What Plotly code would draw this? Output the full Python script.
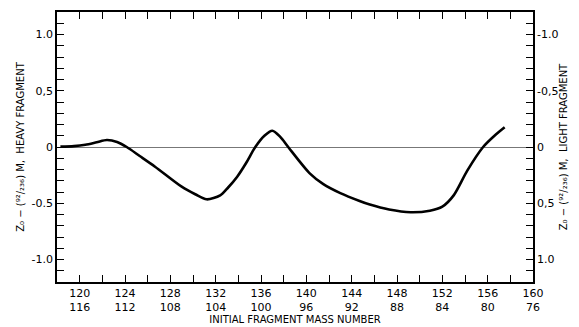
import plotly.graph_objects as go

# Data
mass = [118.3, 119.5, 120.5, 121.5, 122.4, 123.3, 124.15, 125.3, 126.65, 129.0, 130.2,
        131.2, 132.4, 133.1, 133.9, 134.7, 135.5, 136.3, 137.0, 137.7, 138.4, 140.3,
        141.5, 143.0, 144.7, 145.6, 147.3, 149.2, 150.9, 152.0, 153.0, 154.2, 155.6,
        156.6, 157.5]
z_dev = [0.003, 0.008, 0.02, 0.042, 0.062, 0.045, 0.0, -0.08, -0.175, -0.353, -0.42,
         -0.465, -0.43, -0.36, -0.264, -0.14, 0.0, 0.1, 0.145, 0.09, 0.0, -0.234,
         -0.33, -0.41, -0.48, -0.512, -0.556, -0.58, -0.566, -0.53, -0.43, -0.21, 0.0,
         0.1, 0.175]

heavy_ticks = list(range(120, 161, 4))
light_ticks = [236 - m for m in heavy_ticks]
y_left_vals = [1.0, 0.5, 0.0, -0.5, -1.0]
y_left_text = ["1.0", "0,5", "0", "-0.5", "-1.0"]
y_right_vals = [-1.0, -0.5, 0.0, 0.5, 1.0]          # light fragment scale (reversed)
y_right_text = ["-1.0", "-0,5", "0", "0,5", "1.0"]

FONT = "DejaVu Sans"
HEAVY_TITLE = "Z\u2080 \u2212 (\u2079\u00b2/\u2082\u2083\u2086) M,  HEAVY FRAGMENT"
LIGHT_TITLE = "Z\u2080 \u2212 (\u2079\u00b2/\u2082\u2083\u2086) M,  LIGHT FRAGMENT"

fig = go.Figure()
fig.add_trace(go.Scatter(x=mass, y=z_dev, mode="lines",
                         line=dict(color="black", width=2.6, shape="spline", smoothing=0.8),
                         showlegend=False, hoverinfo="skip"))
# mirrored light-fragment values on the right-hand axis (same curve, sign reversed)
fig.add_trace(go.Scatter(x=mass, y=[-v for v in z_dev], yaxis="y2", mode="lines",
                         line=dict(color="rgba(0,0,0,0)", width=0),
                         showlegend=False, hoverinfo="skip"))

tick_style = dict(ticks="inside", ticklen=7, tickwidth=1, tickcolor="black")
minor_y = dict(dtick=0.1, ticks="inside", ticklen=7, tickcolor="black")

fig.update_layout(
    width=579, height=327,
    margin=dict(l=57, r=46, t=12, b=45),
    paper_bgcolor="white", plot_bgcolor="rgba(0,0,0,0)",
    font=dict(family=FONT, size=11, color="black"),
    xaxis=dict(range=[118, 160], tickmode="array", tickvals=heavy_ticks,
               ticktext=[f"{m}<br>{l}" for m, l in zip(heavy_ticks, light_ticks)],
               minor=dict(dtick=2, ticks="inside", ticklen=7, tickcolor="black"),
               showline=True, linecolor="black", linewidth=1.5, mirror="allticks",
               showgrid=False, zeroline=False, automargin=False,
               title=dict(text="INITIAL FRAGMENT MASS NUMBER", font=dict(size=10), standoff=1),
               **tick_style),
    yaxis=dict(range=[-1.2, 1.2], tickmode="array", tickvals=y_left_vals, ticktext=y_left_text,
               minor=minor_y,
               showline=True, linecolor="black", linewidth=1.5, mirror="allticks",
               showgrid=False, zeroline=True, zerolinecolor="#777777", zerolinewidth=1,
               automargin=False,
               title=dict(text=HEAVY_TITLE, font=dict(size=10), standoff=5),
               **tick_style),
    yaxis2=dict(range=[1.2, -1.2], overlaying="y", side="right", tickmode="array",
                tickvals=y_right_vals, ticktext=y_right_text, minor=minor_y,
                showline=True, linecolor="black", linewidth=1.5,
                showgrid=False, zeroline=False, automargin=False,
                title=dict(text=LIGHT_TITLE, font=dict(size=10), standoff=2),
                **tick_style),
)

fig.write_html("out.html")
